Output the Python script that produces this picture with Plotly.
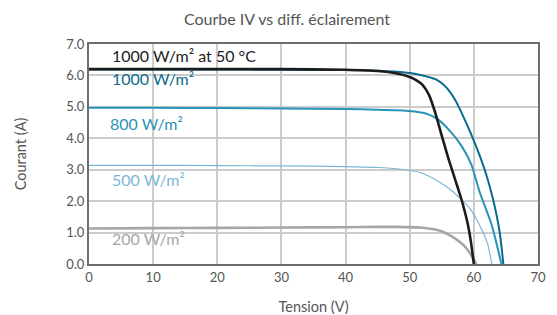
import plotly.graph_objects as go

# ---- data ----
v_200 = [0, 10, 20, 30, 40, 45, 48, 51.6, 54.7, 56.8, 58.4, 59.6, 60.4]
i_200 = [1.13, 1.14, 1.15, 1.16, 1.17, 1.18, 1.18, 1.16, 1.06, 0.85, 0.6, 0.28, 0.0]

v_500 = [0, 10, 20, 30, 40, 45, 48, 51.6, 54.7, 56.8, 59.4, 60.9, 62.2, 62.8]
i_500 = [3.14, 3.14, 3.13, 3.12, 3.1, 3.07, 3.03, 2.91, 2.6, 2.29, 1.76, 1.23, 0.6, 0.0]

v_800 = [0, 10, 20, 30, 40, 45, 48, 50.8, 52.9, 54.4, 56.5, 58.1, 59.6, 60.9, 62.8, 64.3]
i_800 = [4.97, 4.97, 4.96, 4.95, 4.93, 4.91, 4.89, 4.85, 4.76, 4.6, 4.18, 3.75, 3.17, 2.29, 1.23, 0.0]

v_1000 = [0, 10, 20, 30, 40, 45, 48, 50, 52, 54, 55, 56, 57, 58, 59, 60, 61, 62, 63, 64, 64.6]
i_1000 = [6.19, 6.19, 6.19, 6.18, 6.17, 6.15, 6.12, 6.08, 6.0, 5.88, 5.75, 5.55, 5.25, 4.85, 4.4, 3.92, 3.4, 2.8, 2.05, 1.05, 0.0]

v_1000_50c = [0, 10, 20, 30, 40, 45, 48, 50, 51, 52, 53, 54, 55, 56, 57, 58, 59, 59.5, 60]
i_1000_50c = [6.2, 6.2, 6.2, 6.2, 6.18, 6.14, 6.06, 5.95, 5.85, 5.7, 5.38, 4.8, 4.08, 3.38, 2.74, 2.1, 1.32, 0.76, 0.0]

series_names = ["200 W/m²", "500 W/m²", "800 W/m²", "1000 W/m²", "1000 W/m² at 50 °C"]
label_x = [3.2, 3.2, 3.0, 3.2, 3.2]
label_y = [0.8, 2.69, 4.46, 5.89, 6.62]

title_text = "Courbe IV vs diff. éclairement"
x_title = "Tension (V)"
y_title = "Courant (A)"
x_ticks = [0, 10, 20, 30, 40, 50, 60, 70]
y_ticks = [0, 1, 2, 3, 4, 5, 6, 7]

# ---- styling ----
colors = ["#a6a6a6", "#7ab8d6", "#2a93b9", "#0a6b8f", "#1c1c1c"]
widths = [2.6, 1.2, 2.0, 2.0, 2.6]
FONT = "Lato"
W, H = 549, 307  # page body has an 8px margin

fig = go.Figure()
data = [(v_200, i_200), (v_500, i_500), (v_800, i_800), (v_1000, i_1000), (v_1000_50c, i_1000_50c)]
for (vx, iy), name, c, w in zip(data, series_names, colors, widths):
    fig.add_trace(go.Scatter(x=vx, y=iy, mode="lines", name=name,
                             line=dict(color=c, width=w, shape="spline", smoothing=0.6),
                             showlegend=False, hoverinfo="skip"))

for name, c, lx, ly in zip(series_names, colors, label_x, label_y):
    fig.add_annotation(x=lx, y=ly, xref="x", yref="y", text=name, showarrow=False,
                       xanchor="left", yanchor="middle",
                       font=dict(family=FONT, size=16, color=c))

axis_common = dict(showgrid=True, gridcolor="#cccccc", gridwidth=1.5,
                   showline=True, linecolor="#6e6e6e", linewidth=2, mirror=True,
                   zeroline=False, ticks="", automargin=False,
                   tickfont=dict(family=FONT, size=13, color="#555555"))

fig.update_layout(
    width=W, height=H,
    margin=dict(l=81, r=19, t=36, b=51),
    paper_bgcolor="white", plot_bgcolor="white",
    font=dict(family=FONT, color="#555555"),
    title=dict(text=title_text, x=279 / W, xanchor="center", y=1 - 11 / H, yanchor="middle",
               font=dict(family=FONT, size=16, color="#555555")),
    xaxis=dict(range=[0, 70], tickvals=x_ticks, ticktext=[str(t) for t in x_ticks],
               title=dict(text=x_title, font=dict(family=FONT, size=14.5, color="#555555"), standoff=18),
               **axis_common),
    yaxis=dict(range=[0, 7], tickvals=y_ticks, ticktext=[f"{t:.1f}" for t in y_ticks],
               title=dict(text=y_title, font=dict(family=FONT, size=14.5, color="#555555"), standoff=36),
               **axis_common),
)

fig.write_html("out.html")
